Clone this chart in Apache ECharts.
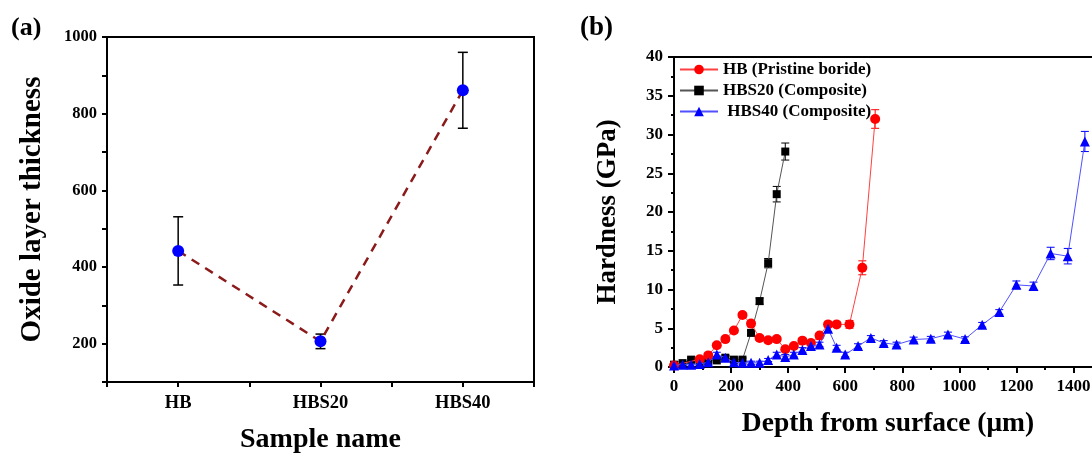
<!DOCTYPE html>
<html>
<head>
<meta charset="utf-8">
<script src="https://cdn.jsdelivr.net/npm/echarts@6/dist/echarts.min.js"></script>
<style>html,body{margin:0;padding:0;background:#fff}#c{width:1092px;height:454px}</style>
</head>
<body>
<div id="c"></div>
<script>
// ---- Panel (a) data ----
const samples = ['HB', 'HBS20', 'HBS40'];
const thickness = [442, 206, 861];
const thicknessErr = [89, 19, 99];

// ---- Panel (b) data ----
const depthHB = [0, 90, 120, 150, 180, 210, 240, 270, 300, 330, 360, 390, 420, 450, 480, 510, 540, 570, 615, 660, 705];
const hardHB  = [0.2, 1.0, 1.5, 2.8, 3.6, 4.7, 6.7, 5.6, 3.75, 3.45, 3.6, 2.3, 2.7, 3.4, 3.1, 4.05, 5.5, 5.5, 5.5, 12.8, 32.0];
const errHB   = [0.2, 0.3, 0.3, 0.3, 0.3, 0.3, 0.3, 0.3, 0.3, 0.3, 0.3, 0.3, 0.3, 0.3, 0.3, 0.3, 0.3, 0.3, 0.5, 0.9, 1.2];

const depth20 = [0, 30, 60, 90, 120, 150, 180, 210, 240, 270, 300, 330, 360, 390];
const hard20  = [0.3, 0.5, 0.95, 0.7, 0.75, 0.85, 1.2, 0.95, 0.95, 4.4, 8.5, 13.4, 22.3, 27.8];
const err20   = [0.2, 0.2, 0.2, 0.2, 0.2, 0.2, 0.2, 0.2, 0.2, 0.3, 0.4, 0.6, 1.0, 1.1];

const depth40 = [0, 30, 60, 90, 120, 150, 180, 210, 240, 270, 300, 330, 360, 390, 420, 450, 480, 510, 540, 570, 600, 645, 690, 735, 780, 840, 900, 960, 1020, 1080, 1140, 1200, 1260, 1320, 1380, 1440];
const hard40  = [0.2, 0.3, 0.3, 0.4, 0.6, 1.6, 1.2, 0.6, 0.55, 0.55, 0.55, 0.9, 1.6, 1.3, 1.6, 2.2, 2.7, 2.9, 4.95, 2.5, 1.6, 2.7, 3.75, 3.1, 2.9, 3.55, 3.65, 4.2, 3.6, 5.45, 7.1, 10.6, 10.45, 14.65, 14.3, 29.1];
const err40   = [0.2, 0.2, 0.2, 0.2, 0.2, 0.3, 0.3, 0.2, 0.2, 0.2, 0.2, 0.2, 0.3, 0.3, 0.3, 0.3, 0.3, 0.3, 0.4, 0.3, 0.3, 0.3, 0.3, 0.3, 0.3, 0.3, 0.3, 0.3, 0.3, 0.3, 0.3, 0.5, 0.5, 0.8, 1.0, 1.3];

const names = ['HB (Pristine boride)', 'HBS20 (Composite)', ' HBS40 (Composite)'];

const FONT = 'Liberation Serif';

function pairs(xs, ys) { return xs.map((x, i) => [x, ys[i]]); }
function errData(xs, ys, es) { return xs.map((x, i) => [x, ys[i] - es[i], ys[i] + es[i]]); }

function errSeries(gridIdx, data, color, capHalf, width) {
  return {
    type: 'custom', xAxisIndex: gridIdx, yAxisIndex: gridIdx, data: data, z: 1, silent: true,
    encode: { x: 0, y: [1, 2] },
    renderItem: function (params, api) {
      const x = api.value(0);
      const p1 = api.coord([x, api.value(1)]);
      const p2 = api.coord([x, api.value(2)]);
      const st = { stroke: color, lineWidth: width };
      return {
        type: 'group',
        children: [
          { type: 'line', shape: { x1: p1[0], y1: p1[1], x2: p2[0], y2: p2[1] }, style: st },
          { type: 'line', shape: { x1: p1[0] - capHalf, y1: p1[1], x2: p1[0] + capHalf, y2: p1[1] }, style: st },
          { type: 'line', shape: { x1: p2[0] - capHalf, y1: p2[1], x2: p2[0] + capHalf, y2: p2[1] }, style: st }
        ]
      };
    }
  };
}

const chart = echarts.init(document.getElementById('c'), null, { renderer: 'canvas' });

const axisCommon = {
  axisLine: { show: true, lineStyle: { color: '#000', width: 2 } },
  splitLine: { show: false }
};

const option = {
  backgroundColor: '#fff',
  animation: false,
  title: [
    { text: '(a)', left: 11, top: 15, padding: 0, textStyle: { fontFamily: FONT, fontWeight: 'bold', fontSize: 26, color: '#000' } },
    { text: '(b)', left: 580, top: 15, padding: 0, textStyle: { fontFamily: FONT, fontWeight: 'bold', fontSize: 27, color: '#000' } }
  ],
  grid: [
    { left: 107, top: 37, width: 427, height: 345, show: true, borderColor: '#000', borderWidth: 2, backgroundColor: 'transparent', containLabel: false, outerBoundsMode: 'none' },
    { left: 674, top: 57, width: 428, height: 310, show: true, borderColor: '#000', borderWidth: 2, backgroundColor: 'transparent', containLabel: false, outerBoundsMode: 'none' }
  ],
  legend: {
    data: names,
    orient: 'vertical', left: 679, top: 61, padding: 0,
    itemWidth: 38, itemHeight: 12, itemGap: 4,
    textStyle: { fontFamily: FONT, fontWeight: 'bold', fontSize: 17, lineHeight: 17, color: '#000' }
  },
  xAxis: [
    Object.assign({}, axisCommon, {
      gridIndex: 0, type: 'value', min: 0.5, max: 3.5, interval: 0.5,
      name: 'Sample name', nameLocation: 'middle', nameGap: 44,
      nameTextStyle: { fontFamily: FONT, fontWeight: 'bold', fontSize: 28, color: '#000' },
      axisTick: { show: true, inside: false, length: 5, lineStyle: { color: '#000', width: 2 } },
      axisLabel: {
        margin: 12, fontFamily: FONT, fontWeight: 'bold', fontSize: 18.5, color: '#000',
        formatter: v => (Number.isInteger(v) && v >= 1 && v <= samples.length) ? samples[v - 1] : ''
      }
    }),
    Object.assign({}, axisCommon, {
      gridIndex: 1, type: 'value', min: 0, max: 1500, interval: 200,
      name: 'Depth from surface (μm)', nameLocation: 'middle', nameGap: 43,
      nameTextStyle: { fontFamily: FONT, fontWeight: 'bold', fontSize: 27.5, color: '#000' },
      axisTick: { show: true, length: 6, lineStyle: { color: '#000', width: 2 } },
      minorTick: { show: true, splitNumber: 2, length: 3, lineStyle: { color: '#000', width: 2 } },
      axisLabel: {
        margin: 11, fontFamily: FONT, fontWeight: 'bold', fontSize: 17, color: '#000',
        formatter: v => (v > 1400 ? '' : String(v))
      }
    })
  ],
  yAxis: [
    Object.assign({}, axisCommon, {
      gridIndex: 0, type: 'value', min: 100, max: 1000, interval: 100,
      name: 'Oxide layer thickness', nameLocation: 'middle', nameGap: 60,
      nameTextStyle: { fontFamily: FONT, fontWeight: 'bold', fontSize: 29, color: '#000' },
      axisTick: { show: true, length: 5, lineStyle: { color: '#000', width: 2 } },
      axisLabel: {
        margin: 10, fontFamily: FONT, fontWeight: 'bold', fontSize: 16.5, color: '#000',
        formatter: v => (v % 200 === 0 ? String(v) : '')
      }
    }),
    Object.assign({}, axisCommon, {
      gridIndex: 1, type: 'value', min: 0, max: 40, interval: 5,
      name: 'Hardness (GPa)', nameLocation: 'middle', nameGap: 52,
      nameTextStyle: { fontFamily: FONT, fontWeight: 'bold', fontSize: 27, color: '#000' },
      axisTick: { show: true, length: 6, lineStyle: { color: '#000', width: 2 } },
      minorTick: { show: true, splitNumber: 2, length: 3, lineStyle: { color: '#000', width: 2 } },
      axisLabel: { margin: 11, fontFamily: FONT, fontWeight: 'bold', fontSize: 17, color: '#000' }
    })
  ],
  series: [
    // Panel (a)
    errSeries(0, thickness.map((v, i) => [i + 1, v - thicknessErr[i], v + thicknessErr[i]]), '#000', 5, 1.5),
    {
      type: 'line', xAxisIndex: 0, yAxisIndex: 0, z: 3,
      data: thickness.map((v, i) => [i + 1, v]),
      symbol: 'circle', symbolSize: 12,
      itemStyle: { color: '#0000ff' },
      lineStyle: { color: '#8b1a1a', width: 2.5, type: [9, 7] }
    },
    // Panel (b)
    errSeries(1, errData(depth20, hard20, err20), '#000', 4, 1),
    errSeries(1, errData(depthHB, hardHB, errHB), '#ff0000', 4, 1),
    errSeries(1, errData(depth40, hard40, err40), '#0000ff', 4, 1),
    {
      name: names[1], type: 'line', xAxisIndex: 1, yAxisIndex: 1, z: 3,
      data: pairs(depth20, hard20),
      symbol: 'rect', symbolSize: 8,
      itemStyle: { color: '#000' },
      lineStyle: { color: '#555', width: 1 }
    },
    {
      name: names[0], type: 'line', xAxisIndex: 1, yAxisIndex: 1, z: 4,
      data: pairs(depthHB, hardHB),
      symbol: 'circle', symbolSize: 10,
      itemStyle: { color: '#ff0000' },
      lineStyle: { color: '#ff4040', width: 1 }
    },
    {
      name: names[2], type: 'line', xAxisIndex: 1, yAxisIndex: 1, z: 5,
      data: pairs(depth40, hard40),
      symbol: 'triangle', symbolSize: 10,
      itemStyle: { color: '#0000ff' },
      lineStyle: { color: '#5050ff', width: 1 }
    }
  ]
};
chart.setOption(option);
</script>
</body>
</html>
